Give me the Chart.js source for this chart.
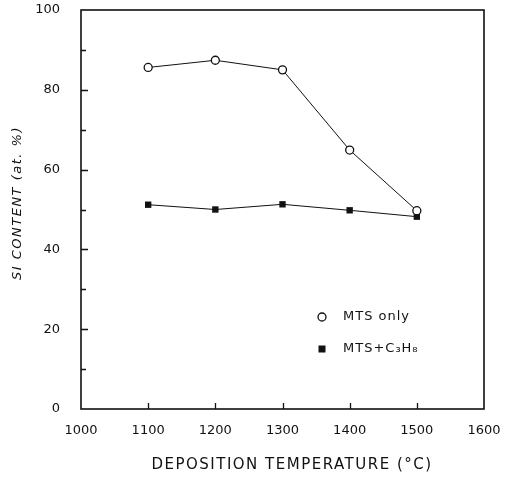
<!DOCTYPE html>
<html>
<head>
<meta charset="utf-8">
<script src="https://cdn.jsdelivr.net/npm/chart.js@4.4.1/dist/chart.umd.min.js"></script>
<style>
  html, body { margin: 0; padding: 0; background: #fff; }
</style>
</head>
<body>
<canvas id="chart" width="505" height="477"></canvas>
<script>
// Deposition temperatures (°C) and Si content (at. %)
const temperatures = [1100, 1200, 1300, 1400, 1500];
const mtsOnly = [85.6, 87.4, 85.0, 64.9, 49.7];
const mtsPropane = [51.2, 50.0, 51.3, 49.8, 48.2];
const seriesLabels = ['MTS only', 'MTS+C\u2083H\u2088'];
const xTicks = [1000, 1100, 1200, 1300, 1400, 1500, 1600];
const yTicks = [0, 20, 40, 60, 80, 100];

const FONT = "'DejaVu Sans', sans-serif";
const INK = '#111';

const toPoints = vals => vals.map((v, i) => ({ x: temperatures[i], y: v }));

// frame, inside tick marks, axis titles and the inset legend
const decor = {
  id: 'decor',
  afterDraw(chart) {
    const { ctx, chartArea: a, scales: { x, y } } = chart;
    ctx.save();
    ctx.strokeStyle = INK;
    ctx.lineWidth = 1.6;
    ctx.strokeRect(a.left, a.top, a.right - a.left, a.bottom - a.top);

    ctx.lineWidth = 1.3;
    ctx.beginPath();
    for (let v = 10; v < 100; v += 10) {
      const py = Math.round(y.getPixelForValue(v)) + 0.5;
      const len = v % 20 === 0 ? 7 : 5;
      ctx.moveTo(a.left, py);
      ctx.lineTo(a.left + len, py);
    }
    xTicks.slice(1, -1).forEach(v => {
      const px = Math.round(x.getPixelForValue(v)) + 0.5;
      ctx.moveTo(px, a.bottom);
      ctx.lineTo(px, a.bottom - 6);
    });
    ctx.stroke();

    ctx.fillStyle = INK;
    ctx.textBaseline = 'middle';
    ctx.textAlign = 'center';
    ctx.letterSpacing = '1.5px';
    ctx.font = `15px ${FONT}`;
    ctx.fillText('DEPOSITION TEMPERATURE (\u00B0C)', 292, 465);

    ctx.save();
    ctx.translate(18, 203);
    ctx.rotate(-Math.PI / 2);
    ctx.font = `oblique 13px ${FONT}`;
    ctx.fillText('SI CONTENT (at. %)', 0, 0);
    ctx.restore();

    // legend
    ctx.letterSpacing = '1px';
    ctx.font = `13px ${FONT}`;
    ctx.textAlign = 'left';
    const lx = 322, rows = [317, 349];
    chart.data.datasets.forEach((ds, i) => {
      const ly = rows[i];
      ctx.beginPath();
      if (ds.pointStyle === 'circle') {
        ctx.lineWidth = 1.3;
        ctx.arc(lx, ly, 4, 0, Math.PI * 2);
        ctx.stroke();
      } else {
        ctx.fillRect(lx - 3.5, ly - 3.5, 7, 7);
      }
      ctx.fillText(ds.label, lx + 21, ly);
    });
    ctx.restore();
  }
};

new Chart(document.getElementById('chart'), {
  type: 'scatter',
  data: {
    datasets: [
      {
        label: seriesLabels[0],
        data: toPoints(mtsOnly),
        showLine: true,
        borderColor: INK,
        borderWidth: 1,
        pointStyle: 'circle',
        pointRadius: 4,
        pointBorderWidth: 1.3,
        pointBackgroundColor: '#fff',
        pointBorderColor: INK
      },
      {
        label: seriesLabels[1],
        data: toPoints(mtsPropane),
        showLine: true,
        borderColor: INK,
        borderWidth: 1,
        pointStyle: 'rect',
        pointRadius: 4.5,
        pointBackgroundColor: INK,
        pointBorderColor: INK,
        pointBorderWidth: 0
      }
    ]
  },
  options: {
    responsive: false,
    animation: false,
    devicePixelRatio: 1,
    layout: { padding: { left: 0, right: 21, top: 10, bottom: 0 } },
    plugins: { legend: { display: false }, tooltip: { enabled: false } },
    scales: {
      x: {
        type: 'linear',
        min: 1000,
        max: 1600,
        afterBuildTicks: s => { s.ticks = xTicks.map(v => ({ value: v })); },
        afterFit: s => { s.height = 68; s.paddingLeft = 0; s.paddingRight = 0; },
        grid: { display: false },
        border: { display: false },
        ticks: {
          color: INK,
          padding: 6,
          maxRotation: 0,
          autoSkip: false,
          callback: v => String(v),
          font: { family: FONT, size: 13 }
        }
      },
      y: {
        min: 0,
        max: 100,
        afterBuildTicks: s => { s.ticks = yTicks.map(v => ({ value: v })); },
        afterFit: s => { s.width = 81; s.paddingTop = 0; s.paddingBottom = 0; },
        grid: { display: false },
        border: { display: false },
        ticks: {
          color: INK,
          padding: 13,
          autoSkip: false,
          callback: v => String(v),
          font: { family: FONT, size: 13 }
        }
      }
    }
  },
  plugins: [decor]
});
</script>
</body>
</html>
